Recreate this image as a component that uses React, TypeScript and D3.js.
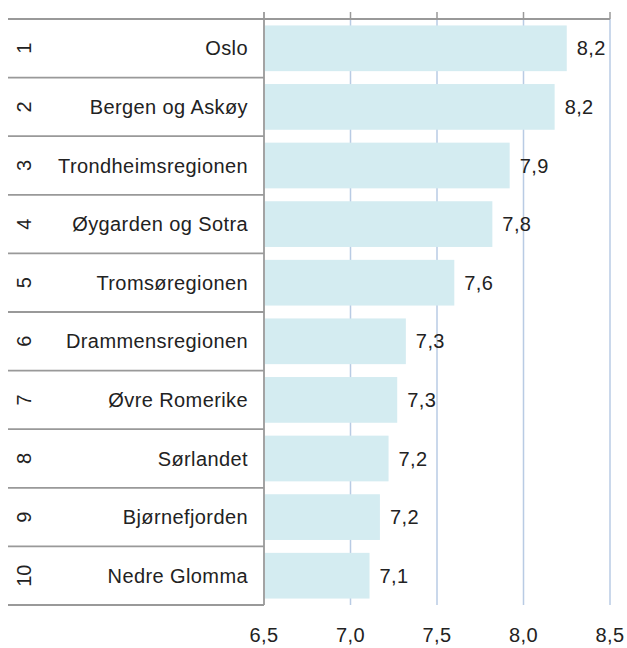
import React from "react";
import * as d3 from "d3";

const ranks = ["1", "2", "3", "4", "5", "6", "7", "8", "9", "10"];
const regions = [
  "Oslo",
  "Bergen og Askøy",
  "Trondheimsregionen",
  "Øygarden og Sotra",
  "Tromsøregionen",
  "Drammensregionen",
  "Øvre Romerike",
  "Sørlandet",
  "Bjørnefjorden",
  "Nedre Glomma",
];
const values = [8.25, 8.18, 7.92, 7.82, 7.6, 7.32, 7.27, 7.22, 7.17, 7.11];
const valueLabels = ["8,2", "8,2", "7,9", "7,8", "7,6", "7,3", "7,3", "7,2", "7,2", "7,1"];
const ticks = [6.5, 7.0, 7.5, 8.0, 8.5];
const tickLabels = ["6,5", "7,0", "7,5", "8,0", "8,5"];

export default function App() {
  const W = 627;
  const H = 648;
  const left = 264;
  const right = 610;
  const top = 19;
  const bottom = 605;
  const tableLeft = 8;
  const x = d3.scaleLinear().domain([6.5, 8.5]).range([left, right]);
  const y = d3
    .scaleBand<string>()
    .domain(ranks)
    .range([top, bottom])
    .paddingInner(0.22)
    .paddingOuter(0.11);
  const rowH = (bottom - top) / ranks.length;
  const font = "'Liberation Sans', Arial, sans-serif";
  const fs = 20;
  const ls = 0.4;
  const lineCol = "#999999";
  const gridCol = "#b9cbe4";

  return (
    <svg
      width={W}
      height={H}
      style={{ position: "absolute", left: 0, top: 0, background: "#fff" }}
      fontFamily={font}
    >
      {ticks.slice(1).map((t) => (
        <line key={"g" + t} x1={x(t)} x2={x(t)} y1={top} y2={bottom} stroke={gridCol} strokeWidth={1.5} />
      ))}
      {values.map((v, i) => (
        <rect
          key={"b" + i}
          x={x(6.5) + 1}
          y={y(ranks[i])!}
          width={x(v) - x(6.5) - 1}
          height={y.bandwidth()}
          fill="#d4ecf1"
        />
      ))}
      {values.map((v, i) => (
        <text
          key={"v" + i}
          x={x(v) + 10}
          y={y(ranks[i])! + y.bandwidth() / 2}
          dy="0.35em"
          fontSize={fs}
          letterSpacing={ls}
          fill="#222"
        >
          {valueLabels[i]}
        </text>
      ))}
      {d3.range(ranks.length + 1).map((k) => (
        <line
          key={"r" + k}
          x1={tableLeft}
          x2={k === 0 ? right : left}
          y1={top + k * rowH}
          y2={top + k * rowH}
          stroke={lineCol}
          strokeWidth={1.8}
        />
      ))}
      <line x1={left} x2={left} y1={12} y2={bottom} stroke={lineCol} strokeWidth={1.8} />
      {ticks.slice(1).map((t) => (
        <line key={"t" + t} x1={x(t)} x2={x(t)} y1={12} y2={top} stroke={lineCol} strokeWidth={1.5} />
      ))}
      {regions.map((r, i) => (
        <text
          key={"c" + i}
          x={248}
          y={top + i * rowH + rowH / 2}
          dy="0.35em"
          textAnchor="end"
          fontSize={fs}
          letterSpacing={ls}
          fill="#222"
        >
          {r}
        </text>
      ))}
      {ranks.map((r, i) => (
        <text
          key={"n" + i}
          transform={`translate(24,${top + i * rowH + rowH / 2}) rotate(-90)`}
          dy="0.35em"
          textAnchor="middle"
          fontSize={fs}
          fill="#222"
        >
          {r}
        </text>
      ))}
      {ticks.map((t, i) => (
        <text key={"l" + t} x={x(t)} y={635} dy="0.35em" textAnchor="middle" fontSize={fs} letterSpacing={ls} fill="#222">
          {tickLabels[i]}
        </text>
      ))}
    </svg>
  );
}
